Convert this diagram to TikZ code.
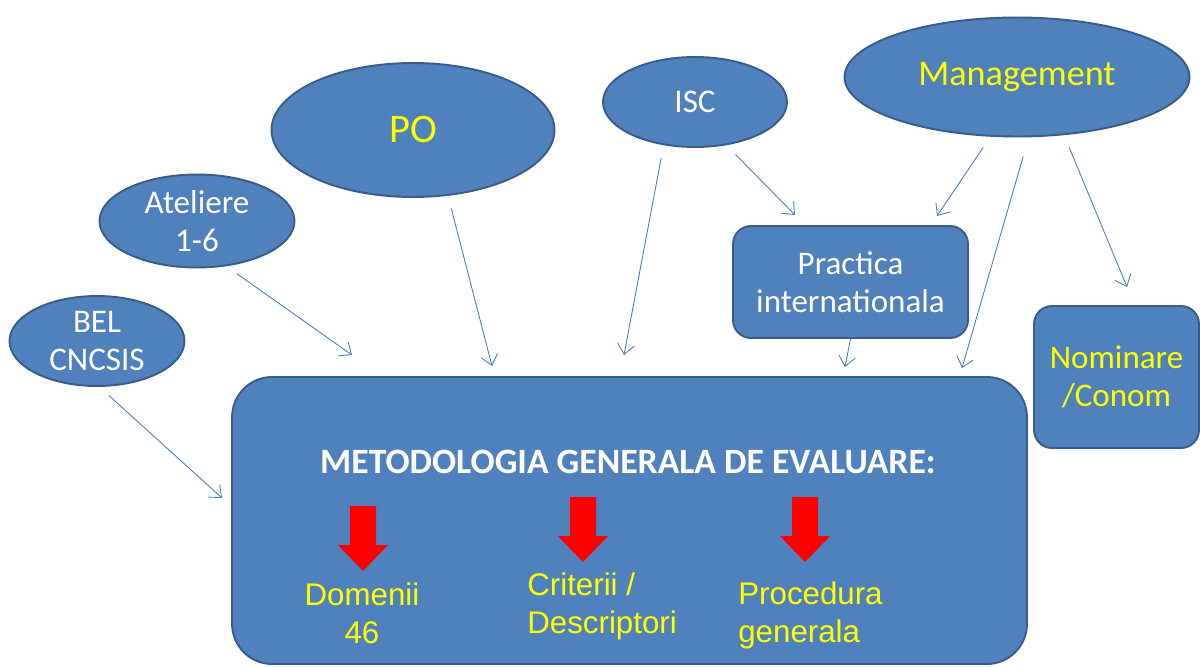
\documentclass[tikz,border=0pt]{standalone}
\usepackage{fontspec}
\setmainfont{Carlito}
\newfontfamily\arialfont{Liberation Sans}
\usetikzlibrary{shapes.geometric,arrows.meta}
\definecolor{boxblue}{HTML}{4F81BD}
\definecolor{boxedge}{HTML}{385D8A}
\definecolor{linkblue}{HTML}{4A7EBB}
\definecolor{labelyellow}{HTML}{FFFF00}
\begin{document}
\begin{tikzpicture}[x=0.02cm,y=-0.02cm,
	oval/.style={ellipse,draw=boxedge,fill=boxblue,line width=1.1pt,inner sep=0pt,text=white,align=center,font=\fontsize{18.8}{21.8}\selectfont},
	panel/.style={rectangle,rounded corners=0.36cm,draw=boxedge,fill=boxblue,line width=1.1pt,inner sep=0pt,text=white,align=center,font=\fontsize{18.8}{21.8}\selectfont},
	link/.style={draw=linkblue,line width=0.5pt,-{Straight Barb[length=2mm,width=3.4mm]},shorten <=0.26cm},
	result/.style={text=labelyellow,inner sep=0pt,font=\arialfont\fontsize{17.8}{21.6}\selectfont}]
		\useasboundingbox (0,0) rectangle (1200,666);
		\node[panel,rounded corners=0.8cm,minimum width=15.9cm,minimum height=5.74cm] (metodologia) at (629.5,520.5) {};
		\node[text=white,font=\bfseries\fontsize{20.3}{24}\selectfont] (titlu) at (628,462) {METODOLOGIA GENERALA DE EVALUARE:};
		\node[oval,minimum width=3.5cm,minimum height=1.8cm] (bel) at (97,341) {BEL\\CNCSIS};
		\node[oval,minimum width=3.9cm,minimum height=1.86cm] (ateliere) at (197,221) {Ateliere\\1-6};
		\node[oval,minimum width=5.66cm,minimum height=2.68cm,text=labelyellow,font=\fontsize{23}{27}\selectfont] (po) at (413,130) {PO};
		\node[oval,minimum width=3.68cm,minimum height=1.8cm] (isc) at (695,102) {ISC};
		\node[oval,minimum width=6.9cm,minimum height=2.38cm,text=labelyellow,font=\fontsize{20.6}{24}\selectfont] (mgmt) at (1017,77) {Management};
		\node[panel,minimum width=4.7cm,minimum height=2.24cm] (practica) at (850.5,282) {Practica\\internationala};
		\node[panel,minimum width=3.3cm,minimum height=2.84cm,text=labelyellow] (nominare) at (1116.5,377) {Nominare\\/Conom};
		\coordinate (belIn) at (222,498);
		\coordinate (ateIn) at (352,355);
		\coordinate (poIn) at (492,366);
		\coordinate (iscIn) at (624,355);
		\coordinate (iscOut) at (795,215);
		\coordinate (mgmtOut) at (937,216);
		\coordinate (mgmtIn) at (962,368);
		\coordinate (mgmtNom) at (1127,287);
		\coordinate (pracIn) at (845,367);
		\draw[link] (bel.-87) -- (belIn);
		\draw[link] (ateliere.-57) -- (ateIn);
		\draw[link] (po.-62) -- (poIn);
		\draw[link] (isc.-126) -- (iscIn);
		\draw[link] (isc.-54) -- (iscOut);
		\draw[link] (mgmt.-114) -- (mgmtOut);
		\draw[link,shorten <=0.4cm] (mgmt.-79) -- (mgmtIn);
		\draw[link] (mgmt.-51) -- (mgmtNom);
		\draw[link,shorten <=0pt] (practica.south) -- (pracIn);
		\foreach \x/\y in {363/506,583/497,805/497}
		{
			\fill[red] (\x-13,\y) -- (\x+13,\y) -- (\x+13,\y+39) -- (\x+25,\y+39) -- (\x,\y+65) -- (\x-25,\y+39) -- (\x-13,\y+39) -- cycle;
		}
		\node[result,align=center] (domenii) at (362,613) {Domenii\\46};
		\node[result,align=left,anchor=west] (criterii) at (527,606) {Criterii /\\Descriptori};
		\node[result,align=left,anchor=west] (procedura) at (738,615) {Procedura\\generala};
\end{tikzpicture}
\end{document}
